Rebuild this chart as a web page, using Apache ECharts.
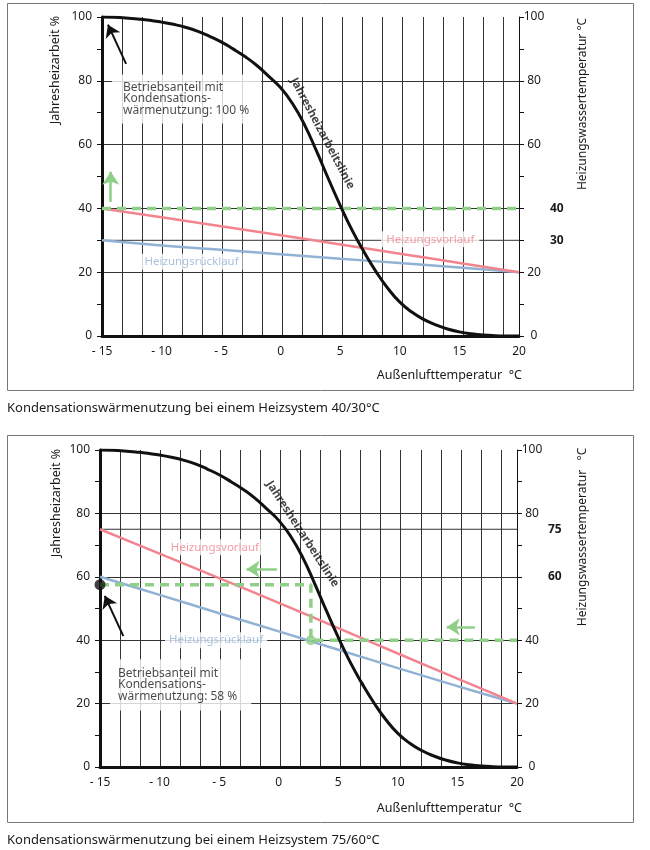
<!DOCTYPE html>
<html>
<head>
<meta charset="utf-8">
<script src="https://cdn.jsdelivr.net/npm/echarts@6/dist/echarts.min.js"></script>
<style>
  html, body { margin: 0; padding: 0; background: #fff; }
  #chart { width: 650px; height: 850px; }
</style>
</head>
<body>
<div id="chart"></div>
<script>
// Außenlufttemperatur (°C) als Stützstellen der Jahresheizarbeitslinie
const temps = [-15, -14, -13, -12, -11, -10, -9, -8, -7, -6, -5, -4, -3, -2, -1, 0, 1, 2,
  3, 4, 5, 6, 7, 8, 9, 10, 11, 12, 13, 14, 15, 16, 17, 18, 19, 20];
// Jahresheizarbeit in % (gleiche Kurve in beiden Diagrammen)
const jahresheizarbeit = [100, 99.9, 99.7, 99.4, 99.0, 98.4, 97.7, 96.8, 95.6, 94.0, 92.2, 90.0,
  87.6, 84.8, 81.4, 77.8, 72.8, 66.2, 58.0, 49.3, 40.9, 33.1, 26.3, 20.2, 14.9, 10.6, 7.5,
  5.2, 3.5, 2.2, 1.3, 0.7, 0.3, 0.1, 0.02, 0];

// Heizkurven, Stützstellen alle 5 K
const kurvenTemps = [-15, -10, -5, 0, 5, 10, 15, 20];
const vorlauf4030 = [40, 37.2, 34.4, 31.6, 28.7, 25.8, 22.9, 20];
const ruecklauf4030 = [30, 28.4, 27.0, 25.6, 24.2, 22.9, 21.5, 20];
const vorlauf7560 = [75, 67.3, 59.6, 51.8, 43.8, 35.8, 27.9, 20];
const ruecklauf7560 = [60, 54.3, 48.5, 42.8, 37.0, 31.2, 25.5, 20];

// Taupunktgrenze (grün gestrichelt)
const kondens4030 = [[-15, 40], [20, 40]];
const kondens7560 = [[-15, 57.5], [2.7, 57.5], [2.7, 40], [20, 40]];
const betriebsPunkt7560 = [[-15, 57.5]];
const schnittPunkt7560 = [[2.7, 40]];

// Pfeile [Start, Spitze]
const pfeilBetrieb4030 = [[-12.98, 85.3], [-14.5, 97.6]];
const pfeilBetrieb7560 = [[-13.04, 41.3], [-14.6, 54.0]];
const pfeileGruen4030 = [[[-14.27, 42], [-14.27, 51.5]]];
const pfeileGruen7560 = [[[-0.14, 62.4], [-2.7, 62.4]], [[16.47, 44.2], [14.1, 44.2]]];

// Achsbeschriftungen
const xTickLabels = [-15, -10, -5, 0, 5, 10, 15, 20];
const rechtsLabels4030 = [0, 20, 60, 80, 100];
const rechtsFett4030 = [30, 40];
const rechtsLabels7560 = [0, 20, 40, 80, 100];
const rechtsFett7560 = [60, 75];
const hilfsLinie4030 = 30;
const hilfsLinie7560 = 75;

const FONT = '"Noto Sans", "DejaVu Sans", sans-serif';
const C = {
  curve: '#111', vor: '#f2848f', rueck: '#92b2d4', green: '#8fcf88',
  grid: '#333', text: '#1a1a1a'
};

const chart = echarts.init(document.getElementById('chart'), null, { renderer: 'canvas' });

const grids = [
  { left: 102, top: 17, width: 417, height: 319 },
  { left: 100, top: 450, width: 417, height: 317 }
];

function xAxes(g) {
  return [{
    type: 'value', gridIndex: g, position: 'bottom', min: -15, max: 20, interval: 5,
    axisLine: { show: true, onZero: false, lineStyle: { color: '#111', width: 3 } },
    axisTick: { show: false },
    splitLine: { show: false },
    axisLabel: {
      customValues: xTickLabels, margin: 10, fontSize: 12, color: C.text, fontFamily: FONT,
      formatter: v => (v < 0 ? '- ' + Math.abs(v) : String(v))
    }
  }, {
    // nur für das feine senkrechte Raster
    type: 'value', gridIndex: g, position: 'bottom', min: 0, max: 20.8, interval: 1,
    axisLine: { show: false }, axisTick: { show: false }, axisLabel: { show: false },
    splitLine: { show: true, showMinLine: false, showMaxLine: false, lineStyle: { color: C.grid, width: 1 } }
  }];
}

function yAxes(g, rechtsVals, fettVals) {
  return [{
    type: 'value', gridIndex: g, position: 'left', min: 0, max: 100, interval: 20,
    axisLine: { show: true, onZero: false, lineStyle: { color: '#111', width: 3 } },
    axisTick: { show: true, length: 5, lineStyle: { color: '#111' } },
    minorTick: { show: true, splitNumber: 2, length: 5, lineStyle: { color: '#111' } },
    splitLine: { show: true, showMinLine: false, showMaxLine: false, lineStyle: { color: C.grid, width: 1 } },
    axisLabel: { margin: 10, fontSize: 12, color: C.text, fontFamily: FONT }
  }, {
    type: 'value', gridIndex: g, position: 'right', min: 0, max: 100, interval: 10,
    axisLine: { show: true, onZero: false, lineStyle: { color: '#111', width: 1 } },
    axisTick: { show: true, length: 5, lineStyle: { color: '#111' } },
    splitLine: { show: false },
    axisLabel: { customValues: rechtsVals, margin: 15, align: 'center', fontSize: 12, color: C.text, fontFamily: FONT }
  }, {
    type: 'value', gridIndex: g, position: 'right', min: 0, max: 100, interval: 10,
    axisLine: { show: false },
    axisTick: { show: true, customValues: fettVals, length: 24, lineStyle: { color: '#333' } },
    splitLine: { show: false },
    axisLabel: { customValues: fettVals, margin: 31, fontSize: 12, fontWeight: 'bold', color: C.text, fontFamily: FONT }
  }];
}

const pairs = (xs, ys) => xs.map((x, i) => [x, ys[i]]);

function arrowLines(list, color, width, size) {
  return {
    silent: true, symbol: ['none', 'arrow'], symbolSize: size,
    label: { show: false },
    lineStyle: { color: color, width: width, type: 'solid' },
    data: list.map(p => [{ coord: p[0] }, { coord: p[1] }])
  };
}

function labelItem(t, v, text, style) {
  return { value: [t, v], label: Object.assign({ show: true, position: 'inside', formatter: text, fontFamily: FONT }, style) };
}

function seriesFor(g, d) {
  const xi = g * 2, yi = g * 3;
  const base = { xAxisIndex: xi, yAxisIndex: yi, animation: false, silent: true };
  return [
    Object.assign({}, base, {
      type: 'line', name: 'hilfslinie', data: [[-15, d.hilfs], [20, d.hilfs]], showSymbol: false,
      lineStyle: { color: '#333', width: 1 }, z: 1
    }),
    Object.assign({}, base, {
      type: 'line', name: 'ruecklauf', data: pairs(kurvenTemps, d.rueck), smooth: 0.3, showSymbol: false,
      lineStyle: { color: C.rueck, width: 2.5 }, z: 3
    }),
    Object.assign({}, base, {
      type: 'line', name: 'vorlauf', data: pairs(kurvenTemps, d.vor), smooth: 0.3, showSymbol: false,
      lineStyle: { color: C.vor, width: 2.5 }, z: 3
    }),
    Object.assign({}, base, {
      type: 'line', name: 'kondens', data: d.kondens, showSymbol: false,
      lineStyle: { color: C.green, width: 3.5, type: [9, 6] }, z: 4,
      markLine: arrowLines(d.gruenPfeile, C.green, 2.5, 13)
    }),
    Object.assign({}, base, {
      type: 'line', name: 'jahresheizarbeit', data: pairs(temps, jahresheizarbeit), smooth: 0.5,
      showSymbol: false,
      lineStyle: { color: C.curve, width: 3 }, z: 5,
      markLine: arrowLines([d.pfeil], '#111', 2, 12)
    }),
    Object.assign({}, base, {
      type: 'scatter', name: 'beschriftung', z: 7, symbolSize: 1,
      itemStyle: { color: 'rgba(0,0,0,0)' },
      data: d.labels
    })
  ];
}

const boxText = p => 'Betriebsanteil mit\nKondensations-\nwärmenutzung: ' + p + ' %';

const d4030 = {
  hilfs: hilfsLinie4030, rueck: ruecklauf4030, vor: vorlauf4030, kondens: kondens4030,
  gruenPfeile: pfeileGruen4030, pfeil: pfeilBetrieb4030,
  labels: [
    labelItem(-14.16, 74.3, boxText(100), { align: 'left', verticalAlign: 'middle', fontSize: 12, lineHeight: 11.7,
      color: C.text, backgroundColor: '#fff', padding: [7, 12, 7, 11] }),
    labelItem(3.5, 63.5, 'Jahresheizarbeitslinie', { rotate: -62, fontSize: 11.5, fontWeight: 'bold', color: '#111' }),
    labelItem(12.55, 30.3, 'Heizungsvorlauf', { fontSize: 11.5, color: C.vor, backgroundColor: '#fff', padding: [2, 5] }),
    labelItem(-7.48, 23.3, 'Heizungsrücklauf', { fontSize: 11.5, color: C.rueck, backgroundColor: '#fff', padding: [2, 4] })
  ]
};

const d7560 = {
  hilfs: hilfsLinie7560, rueck: ruecklauf7560, vor: vorlauf7560, kondens: kondens7560,
  gruenPfeile: pfeileGruen7560, pfeil: pfeilBetrieb7560,
  labels: [
    labelItem(-14.16, 25.9, boxText(58), { align: 'left', verticalAlign: 'middle', fontSize: 12, lineHeight: 11.7,
      color: C.text, backgroundColor: '#fff', padding: [8, 14, 8, 8] }),
    labelItem(2.0, 73.5, 'Jahresheizarbeitslinie', { rotate: -57, fontSize: 11.5, fontWeight: 'bold', color: '#111' }),
    labelItem(-5.35, 69.3, 'Heizungsvorlauf', { fontSize: 11.5, color: C.vor, backgroundColor: '#fff', padding: [2, 5] }),
    labelItem(-5.26, 40, 'Heizungsrücklauf', { fontSize: 11.5, color: C.rueck, backgroundColor: '#fff', padding: [2, 4] })
  ]
};

const extraDots = [
  { xAxisIndex: 2, yAxisIndex: 3, type: 'scatter', data: betriebsPunkt7560, symbolSize: 11,
    itemStyle: { color: '#111' }, z: 6, animation: false, silent: true },
  { xAxisIndex: 2, yAxisIndex: 3, type: 'scatter', data: schnittPunkt7560, symbolSize: 10,
    itemStyle: { color: C.green }, z: 6, animation: false, silent: true }
];

function vText(x, y, text, size) {
  return { type: 'text', x: x, y: y, rotation: Math.PI / 2, silent: true,
    style: { text: text, fontSize: size, fontFamily: FONT, fill: C.text, align: 'center', verticalAlign: 'middle' } };
}
function hText(x, y, text, size, align) {
  return { type: 'text', x: x, y: y, silent: true,
    style: { text: text, fontSize: size, fontFamily: FONT, fill: C.text, align: align, verticalAlign: 'middle' } };
}

chart.setOption({
  animation: false,
  grid: grids,
  xAxis: xAxes(0).concat(xAxes(1)),
  yAxis: yAxes(0, rechtsLabels4030, rechtsFett4030).concat(yAxes(1, rechtsLabels7560, rechtsFett7560)),
  series: seriesFor(0, d4030).concat(seriesFor(1, d7560)).concat(extraDots),
  graphic: [
    { type: 'rect', silent: true, shape: { x: 7.5, y: 3.5, width: 626, height: 387 },
      style: { fill: 'none', stroke: '#777', lineWidth: 1 }, z: -1 },
    { type: 'rect', silent: true, shape: { x: 7.5, y: 435.5, width: 626, height: 387 },
      style: { fill: 'none', stroke: '#777', lineWidth: 1 }, z: -1 },
    vText(55, 70, 'Jahresheizarbeit %', 12.5),
    vText(583, 104, 'Heizungswassertemperatur °C', 12),
    hText(522, 375, 'Außenlufttemperatur  °C', 12.5, 'right'),
    hText(7, 408, 'Kondensationswärmenutzung bei einem Heizsystem 40/30°C', 13, 'left'),
    vText(56, 503, 'Jahresheizarbeit %', 12.5),
    vText(583, 537, 'Heizungswassertemperatur   °C', 12),
    hText(522, 808, 'Außenlufttemperatur  °C', 12.5, 'right'),
    hText(7, 840, 'Kondensationswärmenutzung bei einem Heizsystem 75/60°C', 13, 'left')
  ]
});
</script>
</body>
</html>
